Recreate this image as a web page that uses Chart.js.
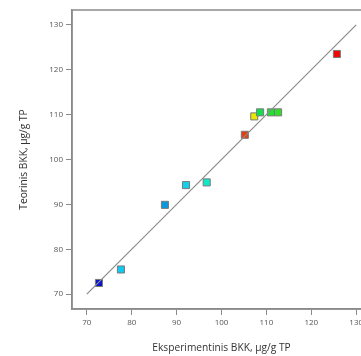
<!DOCTYPE html>
<html>
<head>
<meta charset="utf-8">
<script src="https://cdn.jsdelivr.net/npm/chart.js@4"></script>
<style>
  html, body { margin: 0; padding: 0; background: #fff; overflow: hidden; }
  #wrap { width: 380px; height: 356px; }
</style>
</head>
<body>
<div id="wrap"><canvas id="chart" width="380" height="356"></canvas></div>
<script>
const experimental = [72.7, 77.6, 87.4, 92.1, 96.7, 105.2, 107.3, 108.6, 111.0, 112.6, 125.7];
const theoretical = [72.5, 75.5, 89.9, 94.3, 94.9, 105.5, 109.6, 110.5, 110.5, 110.5, 123.5];
const pointColors = ['#0a14c8', '#10c8f0', '#0898e0', '#10d0ec', '#10e8c8', '#e04010',
  '#e8e800', '#10e050', '#20e030', '#30e028', '#ee0808'];
const tickValues = [70, 80, 90, 100, 110, 120, 130];
const lineEnds = [70, 130];

const points = experimental.map((x, i) => ({ x: x, y: theoretical[i] }));
const fitLine = lineEnds.map(v => ({ x: v, y: v }));

// border round the plot area (top and right sides)
const frame = {
  id: 'frame',
  afterDatasetsDraw(chart) {
    const a = chart.chartArea;
    const ctx = chart.ctx;
    ctx.save();
    ctx.strokeStyle = '#8a8a8a';
    ctx.lineWidth = 1.5;
    ctx.strokeRect(a.left, a.top, a.right - a.left, a.bottom - a.top);
    ctx.restore();
  }
};

const tickFont = { family: 'Open Sans', size: 8 };
const titleFont = { family: 'Open Sans', size: 10.2 };

new Chart(document.getElementById('chart').getContext('2d'), {
  type: 'scatter',
  data: {
    datasets: [{
      type: 'line',
      data: fitLine,
      order: 0,
      borderColor: '#8c8c8c',
      borderWidth: 1.2,
      pointRadius: 0,
      fill: false
    }, {
      data: points,
      order: 1,
      pointStyle: 'rect',
      pointRadius: 5,
      pointBackgroundColor: pointColors,
      pointBorderColor: '#7a7a7a',
      pointBorderWidth: 1
    }]
  },
  options: {
    responsive: false,
    animation: false,
    layout: { padding: { left: 0, right: 9, top: 10, bottom: 0 } },
    plugins: { legend: { display: false }, tooltip: { enabled: false } },
    scales: {
      x: {
        type: 'linear',
        min: 66.7,
        max: 133.3,
        afterBuildTicks: s => { s.ticks = tickValues.map(v => ({ value: v })); },
        afterFit: s => { s.height = 47; },
        grid: { drawOnChartArea: false, drawTicks: true, tickLength: 6, color: '#8a8a8a' },
        border: { color: '#8a8a8a', width: 1.5 },
        ticks: { font: tickFont, color: '#555', padding: 3, maxRotation: 0 },
        title: { display: true, text: 'Eksperimentinis BKK, µg/g TP', font: titleFont, color: '#333', padding: { top: 4, bottom: 2 } }
      },
      y: {
        type: 'linear',
        min: 66.7,
        max: 133.3,
        afterBuildTicks: s => { s.ticks = tickValues.map(v => ({ value: v })); },
        afterFit: s => { s.width = 72; },
        grid: { drawOnChartArea: false, drawTicks: true, tickLength: 6, color: '#8a8a8a' },
        border: { color: '#8a8a8a', width: 1.5 },
        ticks: { font: tickFont, color: '#555', padding: 3 },
        title: { display: true, text: 'Teorinis BKK, µg/g TP', font: titleFont, color: '#333', padding: { top: 18, bottom: 0 } }
      }
    }
  },
  plugins: [frame]
});
</script>
</body>
</html>
